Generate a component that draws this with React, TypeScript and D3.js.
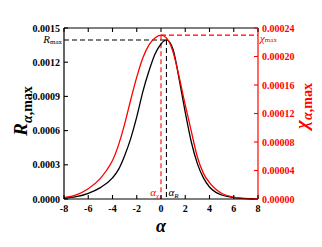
import * as d3 from "d3";

const W = 322, H = 247;
const PLOT = { left: 64, right: 258, top: 28, bottom: 199 };

// black curve: R_alpha,max (left axis)
const alphaR = [-8, -7, -6, -5, -4, -3.5, -3, -2.5, -2, -1.5, -1, -0.5, 0, 0.45, 1, 1.5, 2, 2.5, 3, 3.5, 4, 4.5, 5, 6, 7, 8];
const rValues = [
  0.000006, 0.00002, 0.00005, 0.0001, 0.000185, 0.00026, 0.00038, 0.00053, 0.00072, 0.00094,
  0.00112, 0.00127, 0.00136, 0.001395, 0.00131, 0.00105, 0.00076, 0.0005, 0.00031, 0.000185,
  0.000105, 0.00006, 0.000035, 0.000012, 0.000003, 0,
];

// red curve: chi_alpha,max (right axis)
const alphaChi = [-8, -7, -6, -5, -4.5, -4, -3.5, -3, -2.5, -2, -1.5, -1, -0.5, 0, 0.5, 1, 1.5, 2, 2.5, 3, 3.5, 4, 4.5, 5, 6, 7, 8];
const chiValues = [
  0.0000019, 0.0000058, 0.0000145, 0.000029, 0.00004, 0.000054, 0.000076, 0.000105, 0.000139, 0.000171,
  0.000198, 0.000216, 0.000226, 0.00023, 0.000225, 0.000206, 0.000171, 0.000132, 0.000095, 0.000059,
  0.000036, 0.000023, 0.000014, 0.000008, 0.0000026, 0.0000008, 0.0000002,
];

const R_MAX = 0.001395, ALPHA_R = 0.45;
const CHI_MAX = 0.00023, ALPHA_CHI = 0.0;

const xTicks = [-8, -6, -4, -2, 0, 2, 4, 6, 8];
const leftTicks = [0, 0.0003, 0.0006, 0.0009, 0.0012, 0.0015];
const rightTicks = [0, 0.00004, 0.00008, 0.00012, 0.00016, 0.0002, 0.00024];

const RED = "#ff0000";
const SERIF = "'Liberation Serif', 'Times New Roman', serif";

export default function App() {
  const x = d3.scaleLinear([-8, 8], [PLOT.left, PLOT.right]);
  const yL = d3.scaleLinear([0, 0.0015], [PLOT.bottom, PLOT.top]);
  const yR = d3.scaleLinear([0, 0.00024], [PLOT.bottom, PLOT.top]);

  const line = d3.line<[number, number]>().x((d) => d[0]).y((d) => d[1]).curve(d3.curveMonotoneX);
  const rPath = line(alphaR.map((a, i) => [x(a), yL(rValues[i])]))!;
  const chiPath = line(alphaChi.map((a, i) => [x(a), yR(chiValues[i])]))!;

  const TL = 4;

  return (
    <svg width={W} height={H} style={{ position: "fixed", left: 0, top: 0, background: "#fff" }}>
      {/* dashed markers */}
      <line x1={PLOT.left} y1={yL(R_MAX)} x2={x(ALPHA_R)} y2={yL(R_MAX)} stroke="#000" strokeWidth={1.1} strokeDasharray="5,3" />
      <line x1={x(ALPHA_R)} y1={yL(R_MAX)} x2={x(ALPHA_R)} y2={PLOT.bottom} stroke="#000" strokeWidth={1.1} strokeDasharray="5,3" />
      <line x1={x(ALPHA_CHI)} y1={yR(CHI_MAX)} x2={PLOT.right} y2={yR(CHI_MAX)} stroke={RED} strokeWidth={1.1} strokeDasharray="5,3" />
      <line x1={x(ALPHA_CHI)} y1={yR(CHI_MAX)} x2={x(ALPHA_CHI)} y2={PLOT.bottom} stroke={RED} strokeWidth={1.1} strokeDasharray="5,3" />

      {/* curves */}
      <path d={rPath} fill="none" stroke="#000" strokeWidth={1.3} />
      <path d={chiPath} fill="none" stroke={RED} strokeWidth={1.3} />

      {/* frame */}
      <line x1={PLOT.left} y1={PLOT.top} x2={PLOT.right} y2={PLOT.top} stroke="#000" strokeWidth={1.2} />
      <line x1={PLOT.left} y1={PLOT.bottom} x2={PLOT.right} y2={PLOT.bottom} stroke="#000" strokeWidth={1.2} />
      <line x1={PLOT.left} y1={PLOT.top} x2={PLOT.left} y2={PLOT.bottom} stroke="#000" strokeWidth={1.2} />
      <line x1={PLOT.right} y1={PLOT.top} x2={PLOT.right} y2={PLOT.bottom} stroke={RED} strokeWidth={1.2} />

      {/* x ticks */}
      {xTicks.map((t) => (
        <g key={t}>
          <line x1={x(t)} y1={PLOT.bottom} x2={x(t)} y2={PLOT.bottom - TL} stroke="#000" strokeWidth={1.1} />
          <line x1={x(t)} y1={PLOT.top} x2={x(t)} y2={PLOT.top + TL} stroke="#000" strokeWidth={1.1} />
          <text x={x(t)} y={PLOT.bottom + 13} textAnchor="middle" fontSize={10} fontWeight="bold" fontFamily={SERIF}>
            {t}
          </text>
        </g>
      ))}

      {/* left ticks */}
      {leftTicks.map((t) => (
        <g key={t}>
          <line x1={PLOT.left} y1={yL(t)} x2={PLOT.left + TL} y2={yL(t)} stroke="#000" strokeWidth={1.1} />
          <text x={PLOT.left - 4} y={yL(t) + 3.5} textAnchor="end" fontSize={10} fontWeight="bold" fontFamily={SERIF}>
            {t.toFixed(4)}
          </text>
        </g>
      ))}

      {/* right ticks */}
      {rightTicks.map((t) => (
        <g key={t}>
          <line x1={PLOT.right} y1={yR(t)} x2={PLOT.right - TL} y2={yR(t)} stroke={RED} strokeWidth={1.1} />
          <text x={PLOT.right + 4} y={yR(t) + 3.5} fontSize={10} fontWeight="bold" fill={RED} fontFamily={SERIF}>
            {t.toFixed(5)}
          </text>
        </g>
      ))}

      {/* annotations */}
      <text x={PLOT.left - 2} y={yL(R_MAX) + 3} textAnchor="end" fontFamily={SERIF}>
        <tspan fontSize={11} fontStyle="italic">R</tspan>
        <tspan fontSize={7} dy={1}>max</tspan>
      </text>
      <text x={PLOT.right + 2} y={yR(CHI_MAX) + 7} fill={RED} fontFamily={SERIF}>
        <tspan fontSize={11} fontStyle="italic">χ</tspan>
        <tspan fontSize={7} dy={0}>max</tspan>
      </text>
      <text x={x(ALPHA_CHI) - 2} y={PLOT.bottom - 3} textAnchor="end" fill={RED} fontFamily={SERIF}>
        <tspan fontSize={11} fontStyle="italic">α</tspan>
        <tspan fontSize={7} fontStyle="italic" dy={2}>χ</tspan>
      </text>
      <text x={x(ALPHA_R) + 2} y={PLOT.bottom - 3} fill="#000" fontFamily={SERIF}>
        <tspan fontSize={11} fontStyle="italic">α</tspan>
        <tspan fontSize={7} fontStyle="italic" dy={2}>R</tspan>
      </text>

      {/* axis titles */}
      <text x={(PLOT.left + PLOT.right) / 2} y={232} textAnchor="middle" fontSize={18} fontStyle="italic" fontWeight="bold" fontFamily={SERIF}>
        α
      </text>
      <text transform="translate(27,111) rotate(-90)" textAnchor="middle" fontFamily={SERIF} fontWeight="bold">
        <tspan fontSize={19} fontStyle="italic">R</tspan>
        <tspan fontSize={14} dy={5} fontStyle="italic">α</tspan>
        <tspan fontSize={14}>,max</tspan>
      </text>
      <text transform="translate(308,106) rotate(-90)" textAnchor="middle" fontFamily={SERIF} fontWeight="bold" fill={RED}>
        <tspan fontSize={19} fontStyle="italic">χ</tspan>
        <tspan fontSize={14} dy={4} fontStyle="italic">α</tspan>
        <tspan fontSize={14}>,max</tspan>
      </text>
    </svg>
  );
}
